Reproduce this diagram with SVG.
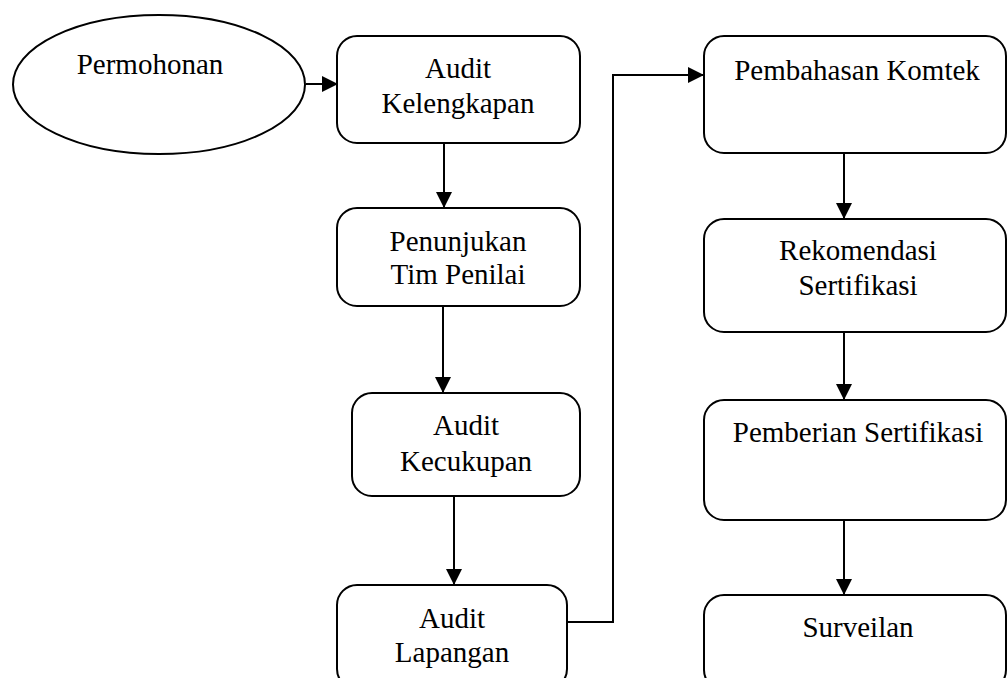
<svg xmlns="http://www.w3.org/2000/svg" width="1008" height="678" viewBox="0 0 1008 678">
  <style>
    .box { fill: #ffffff; stroke: #000000; stroke-width: 2; }
    .lbl { font-family: 'Liberation Serif', 'DejaVu Serif', serif; font-size: 29px; fill: #000000; text-anchor: middle; }
    .conn { fill: none; stroke: #000000; stroke-width: 2; }
  </style>
  <defs>
    <marker id="arrow" markerUnits="userSpaceOnUse" markerWidth="17" markerHeight="16" refX="16" refY="8" orient="auto" viewBox="0 0 17 16">
      <path d="M0,0 L16,8 L0,16 Z" fill="#000000"/>
    </marker>
  </defs>
  <rect width="1008" height="678" fill="#ffffff"/>

  <g id="connectors">
    <path class="conn" d="M306,84 H338" marker-end="url(#arrow)"/>
    <path class="conn" d="M444,143 V208" marker-end="url(#arrow)"/>
    <path class="conn" d="M443,306 V393" marker-end="url(#arrow)"/>
    <path class="conn" d="M454,496 V585" marker-end="url(#arrow)"/>
    <path class="conn" d="M567,622 H613 V75 H704" marker-end="url(#arrow)"/>
    <path class="conn" d="M844,153 V219" marker-end="url(#arrow)"/>
    <path class="conn" d="M844,332 V400" marker-end="url(#arrow)"/>
    <path class="conn" d="M844,520 V595" marker-end="url(#arrow)"/>
  </g>

  <g id="permohonan">
    <ellipse class="box" cx="159" cy="84.5" rx="146" ry="69.5"/>
    <text class="lbl" font-family="Liberation Serif, serif" x="150" y="74">Permohonan</text>
  </g>
  <g id="audit-kelengkapan">
    <rect class="box" x="337" y="36" width="243" height="107" rx="20"/>
    <text class="lbl" x="458" y="78">Audit</text>
    <text class="lbl" x="458" y="113">Kelengkapan</text>
  </g>
  <g id="penunjukan-tim-penilai">
    <rect class="box" x="337" y="208" width="243" height="98" rx="20"/>
    <text class="lbl" x="458" y="251">Penunjukan</text>
    <text class="lbl" x="458" y="284">Tim Penilai</text>
  </g>
  <g id="audit-kecukupan">
    <rect class="box" x="352" y="393" width="228" height="103" rx="20"/>
    <text class="lbl" x="466" y="435">Audit</text>
    <text class="lbl" x="466" y="471">Kecukupan</text>
  </g>
  <g id="audit-lapangan">
    <rect class="box" x="337" y="585" width="230" height="104" rx="20"/>
    <text class="lbl" x="452" y="628">Audit</text>
    <text class="lbl" x="452" y="662">Lapangan</text>
  </g>
  <g id="pembahasan-komtek">
    <rect class="box" x="704" y="36" width="302" height="117" rx="20"/>
    <text class="lbl" x="857" y="80">Pembahasan Komtek</text>
  </g>
  <g id="rekomendasi-sertifikasi">
    <rect class="box" x="704" y="219" width="302" height="113" rx="20"/>
    <text class="lbl" x="858" y="260">Rekomendasi</text>
    <text class="lbl" x="858" y="295">Sertifikasi</text>
  </g>
  <g id="pemberian-sertifikasi">
    <rect class="box" x="704" y="400" width="302" height="120" rx="20"/>
    <text class="lbl" x="858" y="442">Pemberian Sertifikasi</text>
  </g>
  <g id="surveilan">
    <rect class="box" x="704" y="595" width="302" height="95" rx="20"/>
    <text class="lbl" x="858" y="637">Surveilan</text>
  </g>
</svg>
